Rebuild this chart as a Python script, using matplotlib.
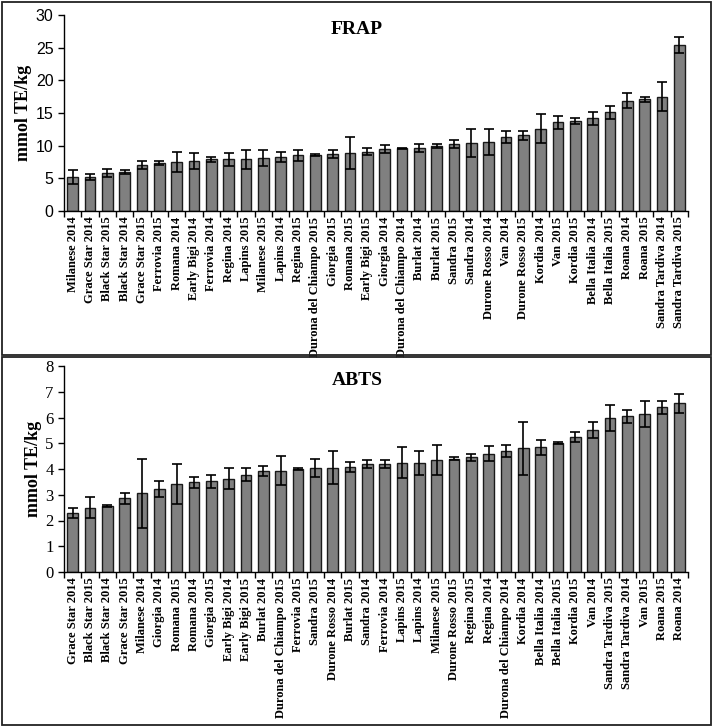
import matplotlib
matplotlib.use('Agg')
import matplotlib.pyplot as plt
from matplotlib.patches import Rectangle
import numpy as np

# --- data ---
frap_labels = ['Milanese 2014', 'Grace Star 2014', 'Black Star 2015', 'Black Star 2014',
               'Grace Star 2015', 'Ferrovia 2015', 'Romana 2014', 'Early Bigi 2014',
               'Ferrovia 2014', 'Regina 2014', 'Lapins 2015', 'Milanese 2015',
               'Lapins 2014', 'Regina 2015', 'Durona del Chiampo 2015', 'Giorgia 2015',
               'Romana 2015', 'Early Bigi 2015', 'Giorgia 2014', 'Durona del Chiampo 2014',
               'Burlat 2014', 'Burlat 2015', 'Sandra 2015', 'Sandra 2014',
               'Durone Rosso 2014', 'Van 2014', 'Durone Rosso 2015', 'Kordia 2014',
               'Van 2015', 'Kordia 2015', 'Bella Italia 2014', 'Bella Italia 2015',
               'Roana 2014', 'Roana 2015', 'Sandra Tardiva 2014', 'Sandra Tardiva 2015']
frap_values = [5.2, 5.2, 5.8, 6.0, 7.1, 7.4, 7.5, 7.7, 7.9, 7.9, 7.9, 8.1,
               8.3, 8.5, 8.5, 8.7, 8.9, 9.1, 9.5, 9.6, 9.6, 9.9, 10.2, 10.4,
               10.6, 11.3, 11.6, 12.6, 13.6, 13.8, 14.2, 15.1, 16.9, 17.1, 17.5, 25.4]
frap_err = [1.0, 0.5, 0.6, 0.3, 0.6, 0.3, 1.6, 1.2, 0.4, 1.0, 1.4, 1.2,
            0.8, 0.9, 0.15, 0.6, 2.4, 0.6, 0.6, 0.1, 0.6, 0.3, 0.6, 2.2,
            2.0, 0.9, 0.7, 2.2, 1.0, 0.5, 1.0, 1.0, 1.2, 0.4, 2.2, 1.2]

abts_labels = ['Grace Star 2014', 'Black Star 2015', 'Black Star 2014', 'Grace Star 2015',
               'Milanese 2014', 'Giorgia 2014', 'Romana 2015', 'Romana 2014',
               'Giorgia 2015', 'Early Bigi 2014', 'Early Bigi 2015', 'Burlat 2014',
               'Durona del Chiampo 2015', 'Ferrovia 2015', 'Sandra 2015', 'Durone Rosso 2014',
               'Burlat 2015', 'Sandra 2014', 'Ferrovia 2014', 'Lapins 2015',
               'Lapins 2014', 'Milanese 2015', 'Durone Rosso 2015', 'Regina 2015',
               'Regina 2014', 'Durona del Chiampo 2014', 'Kordia 2014', 'Bella Italia 2014',
               'Bella Italia 2015', 'Kordia 2015', 'Van 2014', 'Sandra Tardiva 2015',
               'Sandra Tardiva 2014', 'Van 2015', 'Roana 2015', 'Roana 2014']
abts_values = [2.28, 2.5, 2.56, 2.86, 3.05, 3.22, 3.42, 3.48, 3.52, 3.62, 3.78, 3.93,
               3.93, 4.0, 4.05, 4.05, 4.09, 4.19, 4.19, 4.24, 4.24, 4.35, 4.4, 4.45,
               4.6, 4.7, 4.8, 4.84, 5.02, 5.25, 5.52, 5.99, 6.04, 6.14, 6.39, 6.55]
abts_err = [0.2, 0.4, 0.03, 0.2, 1.35, 0.3, 0.78, 0.2, 0.26, 0.4, 0.24, 0.2,
            0.56, 0.03, 0.35, 0.65, 0.2, 0.15, 0.15, 0.6, 0.47, 0.6, 0.05, 0.12,
            0.3, 0.25, 1.03, 0.3, 0.03, 0.2, 0.31, 0.5, 0.25, 0.5, 0.26, 0.37]

serif = 'Liberation Serif'
sans = 'Liberation Sans'

fig = plt.figure(figsize=(7.14, 7.27), dpi=100)
W, H = 714, 727

# panel borders
for (y0, y1) in [(2, 355), (357, 725)]:
    fig.add_artist(Rectangle((2 / W, 1 - y1 / H), 709 / W, (y1 - y0) / H,
                             transform=fig.transFigure, fill=False,
                             edgecolor='#222222', linewidth=1.3))


def draw_panel(rect, labels, values, err, ymax, title, title_y, ylab_x):
    ax = fig.add_axes(rect)
    x = np.arange(len(values))
    ax.bar(x, values, width=0.62, color='#808080', edgecolor='#1a1a1a', linewidth=1.0,
           yerr=err, error_kw=dict(ecolor='black', elinewidth=1.2, capsize=3.5, capthick=1.2))
    ax.set_xlim(-0.5, len(values) - 0.5)
    ax.set_ylim(0, ymax)
    for s in ['top', 'right']:
        ax.spines[s].set_visible(False)
    ax.spines['left'].set_linewidth(1.0)
    ax.spines['bottom'].set_linewidth(1.0)
    ax.set_xticks(x)
    ax.set_xticklabels(labels, rotation=90, fontfamily=serif, fontweight='bold', fontsize=9)
    ax.set_xticks(np.arange(len(values) + 1) - 0.5, minor=True)
    ax.tick_params(axis='x', which='major', length=0, pad=4)
    ax.tick_params(axis='x', which='minor', length=4, width=1.0, direction='out')
    ax.tick_params(axis='y', length=4, width=1.0, direction='out')
    ax.set_ylabel('mmol TE/kg', fontfamily=serif, fontweight='bold', fontsize=13)
    ax.yaxis.set_label_coords(ylab_x, 0.5)
    fig.text(0.5, title_y, title, ha='center', va='center', fontfamily=serif,
             fontweight='bold', fontsize=14)
    return ax


ax1 = draw_panel([64 / W, 1 - 211 / H, 624 / W, 196 / H], frap_labels, frap_values, frap_err,
                 30, 'FRAP', 1 - 29 / H, -0.052)
ax1.set_yticks(np.arange(0, 31, 5))
for t in ax1.get_yticklabels():
    t.set_fontfamily(sans)
    t.set_fontsize(11.5)

ax2 = draw_panel([64 / W, 1 - 572 / H, 624 / W, 206 / H], abts_labels, abts_values, abts_err,
                 8, 'ABTS', 1 - 381 / H, -0.036)
ax2.set_yticks(np.arange(0, 9, 1))
for t in ax2.get_yticklabels():
    t.set_fontfamily(serif)
    t.set_fontsize(12)

fig.savefig('out.png', dpi=100)
